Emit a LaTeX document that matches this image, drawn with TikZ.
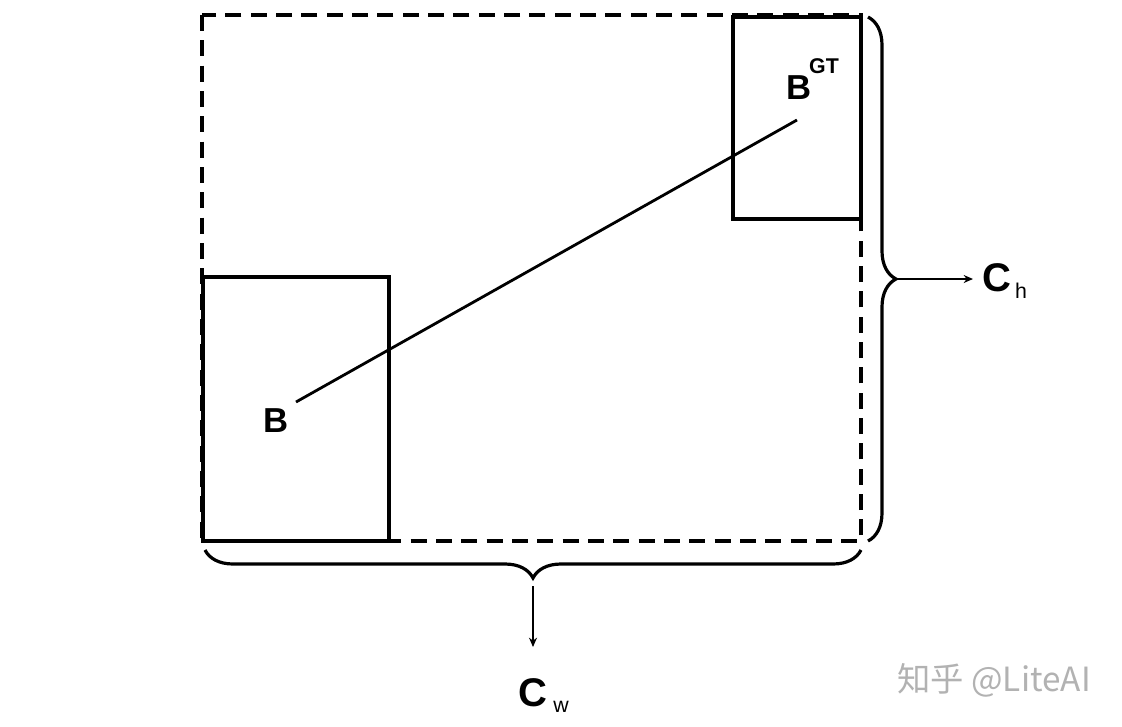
\documentclass[tikz,border=0pt]{standalone}
\usepackage{fontspec}
\setmainfont{Liberation Sans}
\newfontfamily\cjk{Noto Sans CJK SC}
\usetikzlibrary{decorations.pathreplacing,arrows.meta}
\begin{document}
\begin{tikzpicture}[x=0.75pt,y=-0.75pt,
  boxnode/.style={inner sep=0pt,outer sep=0pt},
  solidline/.style={line width=2.4pt,line cap=rect},
  dashline/.style={line width=2.4pt,dash pattern=on 12pt off 7pt},
  bracestyle/.style={decorate,decoration={brace,amplitude=21pt},line width=2.4pt},
  thinarrow/.style={line width=1.1pt,-{Stealth[length=7pt,width=6pt]}},
  biglabel/.style={font=\fontsize{26}{28}\selectfont\bfseries,inner sep=0pt},
  clabel/.style={font=\fontsize{30}{32}\selectfont\bfseries,inner sep=0pt},
  sublabel/.style={font=\fontsize{16}{18}\selectfont,inner sep=0pt},
  suplabel/.style={font=\fontsize{16}{18}\selectfont\bfseries,inner sep=0pt}]
\useasboundingbox (0,0) rectangle (1122,726);
% boxes
\node[boxnode,minimum width=494.25pt,minimum height=394.5pt] (outer) at (531.5,278) {};
\node[boxnode,minimum width=139.5pt,minimum height=198pt] (bbox) at (296,409) {};
\node[boxnode,minimum width=96pt,minimum height=151.5pt] (gtbox) at (797,118) {};
\draw[dashline] (outer.north west) rectangle (outer.south east);
\draw[solidline] (bbox.north west) rectangle (bbox.south east);
\draw[solidline] (gtbox.north west) rectangle (gtbox.south east);
% labels
\node[biglabel] (blab) at (276,421) {B};
\node[biglabel] (gtlab) at (799,88) {B};
\node[suplabel] (gtsup) at (824,66) {GT};
% connector
\coordinate (bc) at (296,402);
\coordinate (gc) at (797,120);
\draw[line width=2.1pt] (bc) -- (gc);
% braces
\coordinate (rbTop) at (868,17);
\coordinate (rbBot) at (868,541);
\draw[bracestyle] (rbTop) -- (rbBot);
\coordinate (bbR) at (861,550);
\coordinate (bbL) at (205,550);
\draw[bracestyle] (bbR) -- (bbL);
% arrows and labels
\coordinate (rtip) at (898,279);
\coordinate (rend) at (973,279);
\node[clabel] (ch) at (997,278) {C};
\node[sublabel] (chs) at (1021,291) {h};
\draw[thinarrow] (rtip) -- (rend);
\coordinate (btip) at (533,586);
\coordinate (bend) at (533,647);
\node[clabel] (cw) at (533,693) {C};
\node[sublabel] (cws) at (561,707) {w};
\draw[thinarrow] (btip) -- (bend);
% watermark
\node[font=\cjk\fontsize{25}{27}\selectfont,text=black!30,inner sep=0pt] (wm) at (994,680) {知乎 @LiteAI};
\end{tikzpicture}
\end{document}
